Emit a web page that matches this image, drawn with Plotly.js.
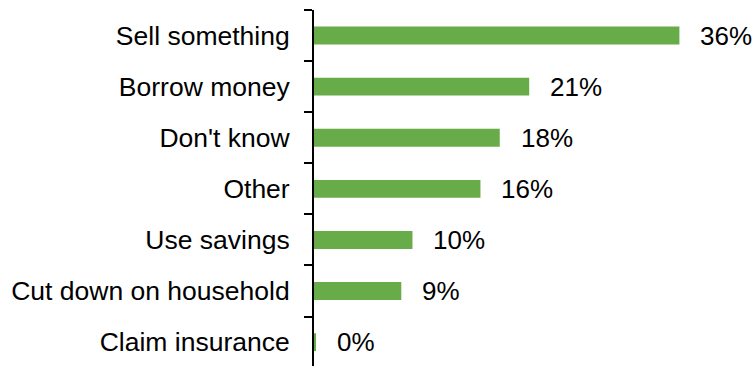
<!DOCTYPE html>
<html>
<head>
<meta charset="utf-8">
<script src="https://cdn.plot.ly/plotly-3.0.1.min.js"></script>
<style>html,body{margin:0;padding:0;background:#fff;}#chart{width:753px;height:366px;}</style>
</head>
<body>
<div id="chart"></div>
<script>
const categories = ["Sell something", "Borrow money", "Don't know", "Other", "Use savings", "Cut down on household", "Claim insurance"];
const values = [36.0, 21.2, 18.3, 16.4, 9.7, 8.6, 0.2];
const labels = ["36%", "21%", "18%", "16%", "10%", "9%", "0%"];

const barColor = "#68AC4A";
const fontFamily = "Liberation Sans, Arial, sans-serif";

const trace = {
  type: "bar",
  orientation: "h",
  y: categories,
  x: values,
  width: 0.35,
  marker: {color: barColor, line: {width: 0}},
  hoverinfo: "none"
};

const annotations = categories.map((c, i) => ({
  x: values[i], y: c, xref: "x", yref: "y",
  text: labels[i], showarrow: false, xanchor: "left", yanchor: "middle",
  xshift: 19,
  font: {family: fontFamily, size: 26, color: "#000"}
}));

const layout = {
  width: 753, height: 366,
  margin: {l: 314, r: 0, t: 10, b: 0, pad: 0},
  paper_bgcolor: "#fff", plot_bgcolor: "#fff",
  showlegend: false,
  xaxis: {range: [0, 43.25], visible: false, fixedrange: true},
  yaxis: {
    type: "category",
    range: [6.467, -0.5],
    automargin: false,
    showline: true, linecolor: "#000", linewidth: 2,
    ticks: "outside", ticklen: 8, tickwidth: 2, tickcolor: "#000",
    tickson: "boundaries",
    showgrid: false, zeroline: false,
    ticklabelstandoff: 17,
    tickfont: {family: fontFamily, size: 26.5, color: "#000"}
  },
  annotations: annotations
};

Plotly.newPlot("chart", [trace], layout, {staticPlot: true, displayModeBar: false});
</script>
</body>
</html>
